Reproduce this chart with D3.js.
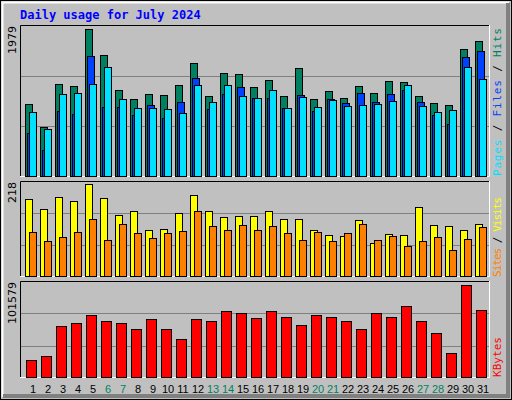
<!DOCTYPE html>
<html><head><meta charset="utf-8">
<script src="https://cdn.jsdelivr.net/npm/d3@7"></script>
<style>body{margin:0;background:#fff}svg{display:block}</style>
</head><body><svg id="c" width="512" height="400"></svg>
<script>
const days = d3.range(1,32).map(String);
const weekendDays = ["6","7","13","14","20","21","27","28"];
const hits = [953,651,1215,1189,1923,1582,1136,1018,1084,1071,1202,1490,1058,1359,1346,1176,1267,1058,1425,1018,1123,1031,1189,1097,1254,1241,1058,966,940,1661,1765];
const files = [577,350,865,822,1569,913,913,809,940,769,979,1294,887,1084,1176,1031,1031,900,1071,861,1018,966,1097,979,1084,1136,979,809,691,1556,1634];
const pages = [848,625,1084,1097,1215,1438,1018,900,900,887,835,1202,979,1202,1058,1031,1136,900,1045,913,1005,927,940,953,992,1202,927,848,874,1438,1280];
const visits = [176,154,181,172,211,179,140,149,106,108,145,186,149,136,138,138,151,131,131,106,95,92,129,77,97,95,158,117,115,106,120];
const sites = [102,81,90,102,131,83,120,99,88,99,104,149,115,106,117,106,115,99,83,102,81,99,120,83,92,70,81,90,61,86,113];
const kbytes = [18535,22724,54140,57281,65659,59376,57281,50998,61470,50998,40526,61470,59376,69848,67753,62517,69848,63564,55187,65659,63564,59376,50998,67753,63564,75084,59376,46810,25866,97075,70895];
const maxHits = 1979, maxVisits = 218, maxKB = 101579;
const title = "Daily usage for July 2024";

const svg = d3.select("#c");
const mono = "'DejaVu Sans Mono', monospace";
svg.append("rect").attr("width",512).attr("height",400).attr("fill","#c0c0c0");
svg.append("rect").attr("x",0.5).attr("y",0.5).attr("width",511).attr("height",399).attr("fill","none").attr("stroke","#000");
svg.append("path").attr("d","M2.5,397V2.5H509").attr("fill","none").attr("stroke","#fff").attr("stroke-width",2);
svg.append("path").attr("d","M508,3V396H3").attr("fill","none").attr("stroke","#808080").attr("stroke-width",4);
svg.append("text").attr("x",20).attr("y",19).attr("fill","#0000ff").attr("font-family",mono)
  .attr("font-weight","bold").attr("font-size",12).text(title);

const X0=20, X1=490;
const x = d3.scaleBand().domain(days).range([25,490]).paddingInner(0).paddingOuter(0);
function panel(top,bottom,max){
  const y = d3.scaleLinear().domain([0,max]).range([bottom,top]);
  const g = svg.append("g");
  g.append("rect").attr("x",X0).attr("y",top).attr("width",X1-X0).attr("height",bottom-top).attr("fill","#c0c0c0");
  [max/3,2*max/3].forEach(v=>g.append("line").attr("x1",X0+1).attr("x2",X1-1)
     .attr("y1",Math.round(y(v))+0.5).attr("y2",Math.round(y(v))+0.5).attr("stroke","#808080"));
  g.append("path").attr("d",`M${X0+0.5},${bottom}V${top+0.5}H${X1}`).attr("fill","none").attr("stroke","#000");
  g.append("path").attr("d",`M${X1-0.5},${top}V${bottom-0.5}H${X0}`).attr("fill","none").attr("stroke","#fff");
  g.append("text").attr("transform",`translate(16,${top+1}) rotate(-90)`).attr("text-anchor","end")
    .attr("font-family","'DejaVu Sans', sans-serif").attr("font-size",11).attr("fill","#000").text(d3.format("d")(max));
  return {y,g};
}
function bars(p,data,off,w,fill){
  p.g.selectAll(null).data(data).enter().append("rect")
   .attr("x",(d,i)=>x(days[i])+off+0.5).attr("y",d=>Math.round(p.y(d))+0.5)
   .attr("width",w).attr("height",d=>Math.max(0,p.y(0)-Math.round(p.y(d))-1))
   .attr("fill",fill).attr("stroke","#000");
}
const p1 = panel(25,177,maxHits);
bars(p1,hits,0,7,"#008060");
bars(p1,files,2,7,"#0040ff");
bars(p1,pages,4,7,"#00e0ff");
const p2 = panel(181,277,maxVisits);
bars(p2,visits,0,7,"#ffff00");
bars(p2,sites,4,7,"#ff8000");
const p3 = panel(281,378,maxKB);
bars(p3,kbytes,1,10,"#ff0000");

function vlabel(yBottom,len,parts){
  const t = svg.append("text").attr("transform",`translate(501,${yBottom}) rotate(-90)`)
    .attr("font-family",mono).attr("font-size",11).attr("textLength",len).attr("lengthAdjust","spacing");
  parts.forEach(([s,c])=>t.append("tspan").attr("fill",c).text(s));
}
vlabel(176,148,[["Pages","#00e0ff"],[" / ","#000"],["Files","#0040ff"],[" / ","#000"],["Hits","#008060"]]);
vlabel(277,80,[["Sites","#ff8000"],[" / ","#000"],["Visits","#ffff00"]]);
vlabel(377,40,[["KBytes","#ff0000"]]);

svg.append("g").selectAll("text").data(days).enter().append("text")
  .attr("x",d=>x(d)+x.bandwidth()/2+0.5).attr("y",393).attr("text-anchor","middle")
  .attr("font-family","'Liberation Sans', Arial, sans-serif").attr("font-size",11)
  .attr("fill",d=>weekendDays.includes(d)?"#008060":"#000").text(d=>d);
</script></body></html>
